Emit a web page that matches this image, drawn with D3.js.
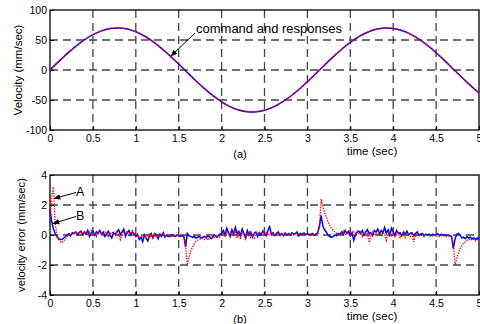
<!DOCTYPE html>
<html>
<head>
<meta charset="utf-8">
<script src="https://cdn.jsdelivr.net/npm/d3@7"></script>
<style>
  body { margin: 0; background: #fff; }
  svg { display: block; font-family: Arial, "Liberation Sans", sans-serif; }
  .axis path { stroke: none; }
  .axis line { stroke: #000; }
  .axis text { font-size: 10.5px; fill: #000; }
  .grid line { stroke: #444; stroke-width: 1.3; stroke-dasharray: 8,5; }
</style>
</head>
<body>
<div id="chart"></div>
<script>
// x ticks shared by both panels
const timeTicks = [0, 0.5, 1, 1.5, 2, 2.5, 3, 3.5, 4, 4.5, 5];
const velTicks = [-100, -50, 0, 50, 100];
const errTicks = [-4, -2, 0, 2, 4];

// panel (a): velocity command/responses, sampled every 0.1 s
const velTime = [0,0.1,0.2,0.3,0.4,0.5,0.6,0.7,0.8,0.9,1,1.1,1.2,1.3,1.4,1.5,1.6,1.7,1.8,1.9,2,
  2.1,2.2,2.3,2.4,2.5,2.6,2.7,2.8,2.9,3,3.1,3.2,3.3,3.4,3.5,3.6,3.7,3.8,3.9,4,
  4.1,4.2,4.3,4.4,4.5,4.6,4.7,4.8,4.9,5];
const velocity = [0,13.9,27.3,39.5,50.2,58.9,65.2,69.0,70.0,68.2,63.7,
  56.7,47.4,36.1,23.4,9.9,-4.1,-17.9,-31.0,-42.8,-53.0,
  -61.0,-66.6,-69.6,-69.7,-67.1,-61.8,-54.1,-44.2,-32.5,-19.6,
  -5.8,8.2,21.8,34.6,46.0,55.6,62.9,67.8,69.9,69.3,
  65.8,59.8,51.4,40.9,28.8,15.6,1.7,-12.2,-25.7,-38.1];

// panel (b): velocity error, sampled every 0.02 s (rows of 0.2 s)
const errTime = d3.range(0, 251).map(i => +(i * 0.02).toFixed(2));
const errorA = [ // red dotted
  1.0, 2.6, 3.2, 0.8, 0.0, -0.3, -0.45, -0.5, -0.4, -0.25,
  -0.1, 0.05, 0.1, 0.0, 0.15, 0.2, 0.05, 0.25, 0.1, 0.2,
  0.1, 0.25, -0.05, 0.2, 0.3, 0.05, 0.15, -0.1, 0.2, 0.1,
  0.15, 0.0, 0.2, 0.1, -0.15, 0.05, 0.2, 0.1, -0.05, 0.15,
  0.1, -0.3, 0.0, 0.2, 0.1, 0.25, -0.1, 0.15, 0.3, 0.05,
  0.0, -0.15, -0.05, -0.2, -0.1, 0.0, -0.25, -0.1, 0.05, -0.15,
  -0.1, 0.05, -0.15, 0.0, -0.05, 0.1, -0.1, 0.0, -0.15, -0.05,
  -0.05, -0.1, 0.0, -0.1, -0.05, -0.1, 0.0, -0.05, -0.1, -0.6,
  -2.0, -1.5, -1.1, -0.8, -0.6, -0.45, -0.35, -0.3, -0.25, -0.2,
  -0.3, -0.15, -0.35, -0.2, -0.1, -0.25, -0.15, -0.05, -0.2, -0.1,
  0.0, 0.1, -0.1, 0.15, 0.05, 0.2, -0.05, 0.1, 0.25, -0.2,
  0.1, -0.3, 0.15, 0.0, -0.25, 0.1, 0.2, -0.15, 0.05, -0.2,
  0.05, 0.2, -0.1, 0.1, 0.3, 0.0, 0.15, -0.05, 0.1, 0.2,
  0.1, 0.0, 0.15, 0.05, -0.05, 0.1, 0.0, 0.1, 0.05, -0.05,
  0.05, 0.1, 0.0, 0.1, -0.05, 0.05, 0.1, 0.0, 0.05, 0.1,
  0.05, 0.1, 0.0, 0.05, 0.1, 0.05, 0.1, 0.5, 2.4, 1.9,
  1.5, 1.2, 0.9, 0.65, 0.45, 0.3, 0.2, 0.1, 0.05, 0.1,
  0.15, 0.25, 0.0, 0.2, 0.1, 0.3, -0.05, 0.2, 0.1, 0.25,
  0.1, 0.2, -0.1, 0.15, 0.05, 0.1, -0.5, 0.05, 0.2, 0.1,
  0.0, 0.15, 0.1, -0.1, 0.2, 0.05, -0.35, 0.1, 0.15, -0.05,
  0.1, -0.1, 0.05, 0.15, -0.2, 0.0, 0.1, -0.15, 0.05, 0.0,
  -0.1, 0.05, -0.45, 0.0, -0.1, 0.05, -0.05, 0.0, -0.1, 0.0,
  -0.05, 0.0, -0.1, -0.05, 0.0, -0.1, -0.05, -0.1, 0.0, -0.05,
  -0.05, -0.1, -0.05, -0.1, -0.1, -0.5, -2.0, -1.6, -1.2, -0.9,
  -0.7, -0.55, -0.45, -0.35, -0.3, -0.35, -0.25, -0.3, -0.4, -0.3,
  -0.35];
const errorB = [ // blue solid
  1.7, 0.9, 0.4, 0.1, -0.1, -0.25, -0.3, -0.3, -0.2, -0.1,
  0.0, 0.1, -0.05, 0.15, 0.1, 0.2, 0.0, 0.15, 0.25, 0.05,
  0.2, 0.05, 0.3, -0.1, 0.15, 0.25, 0.0, 0.2, 0.1, 0.3,
  0.05, 0.2, -0.1, 0.1, 0.25, 0.0, -0.2, 0.15, 0.05, 0.2,
  0.35, 0.05, 0.2, 0.4, -0.1, 0.15, 0.3, 0.0, 0.2, 0.1,
  -0.1, 0.05, -0.3, -0.15, -0.45, 0.0, -0.2, -0.4, -0.05, 0.1,
  -0.2, 0.1, 0.0, -0.25, 0.05, -0.1, 0.15, -0.15, 0.0, -0.1,
  -0.1, 0.0, -0.05, -0.1, 0.0, -0.05, -0.1, -0.05, -0.1, -0.8,
  0.1, -0.05, -0.1, -0.15, -0.1, -0.2, -0.15, -0.1, -0.2, -0.15,
  -0.1, -0.2, -0.05, -0.15, -0.25, -0.1, 0.0, -0.15, -0.05, 0.05,
  0.1, 0.3, 0.0, 0.45, 0.15, -0.1, 0.35, 0.05, 0.5, 0.1,
  0.25, -0.05, 0.4, 0.1, -0.2, 0.3, 0.0, 0.2, -0.15, 0.1,
  0.2, -0.1, 0.15, 0.0, 0.25, 0.1, -0.05, 0.3, 0.55, 0.05,
  0.15, -0.05, 0.1, 0.2, 0.0, 0.1, -0.05, 0.15, 0.0, 0.1,
  0.0, 0.15, 0.05, 0.1, 0.2, -0.05, 0.1, 0.05, 0.15, 0.0,
  0.1, 0.0, 0.05, 0.1, 0.0, 0.05, 0.15, 0.6, 1.3, 0.6,
  0.35, 0.2, 0.0, -0.1, -0.15, -0.1, 0.0, -0.05, 0.1, 0.05,
  0.2, 0.05, 0.3, 0.1, 0.25, -0.05, 0.15, -0.35, 0.0, 0.2,
  0.25, 0.1, 0.3, 0.0, 0.2, 0.35, 0.1, 0.15, -0.05, 0.3,
  0.2, 0.4, 0.05, 0.3, 0.15, 0.5, 0.1, 0.35, 0.0, 0.45,
  0.2, 0.0, 0.3, 0.1, 0.15, -0.05, 0.2, 0.05, 0.25, 0.0,
  0.1, 0.15, -0.05, 0.1, 0.2, 0.0, 0.05, 0.1, -0.05, 0.05,
  0.0, 0.05, -0.05, 0.05, 0.0, 0.0, 0.1, -0.05, 0.05, 0.0,
  0.0, -0.05, 0.0, -0.05, -0.1, -0.9, -0.3, 0.05, 0.1, 0.0,
  -0.2, -0.15, -0.25, -0.1, -0.2, -0.15, -0.25, -0.2, -0.3, -0.2,
  -0.25];

const W = 480, H = 324;
const svg = d3.select('#chart').append('svg')
  .attr('width', W).attr('height', H)
  .attr('viewBox', `0 0 ${W} ${H}`);

svg.append('defs').append('marker')
  .attr('id', 'arrow')
  .attr('viewBox', '0 0 10 10')
  .attr('refX', 9).attr('refY', 5)
  .attr('markerWidth', 7).attr('markerHeight', 7)
  .attr('markerUnits', 'userSpaceOnUse')
  .attr('orient', 'auto')
  .append('path')
  .attr('d', 'M0,1 L10,5 L0,9 Z')
  .attr('fill', '#000');

const x = d3.scaleLinear().domain([0, 5]).range([50, 479]);

function panel(opts) {
  const y = d3.scaleLinear().domain(opts.domain).range([opts.bottom, opts.top]);
  const g = svg.append('g');

  // dashed grid on inner ticks
  const grid = g.append('g').attr('class', 'grid');
  grid.selectAll('.vx')
    .data(timeTicks.slice(1, -1))
    .enter().append('line')
    .attr('x1', d => x(d)).attr('x2', d => x(d))
    .attr('y1', opts.top).attr('y2', opts.bottom);
  grid.selectAll('.hy')
    .data(opts.ticks.slice(1, -1))
    .enter().append('line')
    .attr('x1', x(0)).attr('x2', x(5))
    .attr('y1', d => y(d)).attr('y2', d => y(d));

  // inward ticks, like the original plot
  g.append('g')
    .attr('class', 'axis')
    .attr('transform', `translate(0,${opts.bottom})`)
    .call(d3.axisBottom(x).tickValues(timeTicks).tickSizeInner(-4).tickSizeOuter(0)
      .tickPadding(5).tickFormat(d => String(d)));
  g.append('g')
    .attr('class', 'axis')
    .attr('transform', `translate(${x(0)},0)`)
    .call(d3.axisLeft(y).tickValues(opts.ticks).tickSizeInner(-4).tickSizeOuter(0)
      .tickPadding(3).tickFormat(d => String(d)));

  // frame
  g.append('rect')
    .attr('x', x(0)).attr('y', opts.top)
    .attr('width', x(5) - x(0)).attr('height', opts.bottom - opts.top)
    .attr('fill', 'none').attr('stroke', '#000').attr('stroke-width', 1.3);

  const line = d3.line()
    .x((d, i) => x(opts.t[i]))
    .y(d => y(d));

  g.append('path')
    .datum(opts.blue)
    .attr('d', line.curve(opts.curve))
    .attr('fill', 'none').attr('stroke', '#0000ff').attr('stroke-width', 1.5);
  g.append('path')
    .datum(opts.red)
    .attr('d', line.curve(opts.curve))
    .attr('fill', 'none').attr('stroke', '#ff0000').attr('stroke-width', 1.4)
    .attr('stroke-dasharray', '1.3,1.3');

  g.append('text')
    .attr('transform', `translate(${opts.labelX},${(opts.top + opts.bottom) / 2}) rotate(-90)`)
    .attr('text-anchor', 'middle')
    .attr('font-size', opts.labelSize)
    .text(opts.ylabel);

  g.append('text')
    .attr('x', 240).attr('y', opts.bottom + 28)
    .attr('text-anchor', 'middle').attr('font-size', 11)
    .text(opts.tag);
  g.append('text')
    .attr('x', 372).attr('y', opts.bottom + 25)
    .attr('text-anchor', 'middle').attr('font-size', 11.5)
    .text('time (sec)');
  return y;
}

panel({
  domain: [-100, 100], top: 10, bottom: 130, ticks: velTicks,
  t: velTime, blue: velocity, red: velocity, curve: d3.curveCardinal,
  ylabel: 'Velocity (mm/sec)', labelX: 22, labelSize: 11.5, tag: '(a)'
});
panel({
  domain: [-4, 4], top: 175, bottom: 295, ticks: errTicks,
  t: errTime, blue: errorB, red: errorA, curve: d3.curveLinear,
  ylabel: 'velocity error (mm/sec)', labelX: 25, labelSize: 11.2, tag: '(b)'
});

// annotations
function note(label, tx, ty, x1, y1, x2, y2, size) {
  svg.append('line')
    .attr('x1', x1).attr('y1', y1).attr('x2', x2).attr('y2', y2)
    .attr('stroke', '#000').attr('stroke-width', 1)
    .attr('marker-end', 'url(#arrow)');
  svg.append('text')
    .attr('x', tx).attr('y', ty)
    .attr('font-size', size)
    .text(label);
}
note('command and responses', 196, 33, 195, 33, 171, 56, 13);
note('A', 76, 196, 76, 192.5, 54, 198.5, 12.5);
note('B', 76, 220, 76, 216.5, 53, 223.5, 12.5);
</script>
</body>
</html>
